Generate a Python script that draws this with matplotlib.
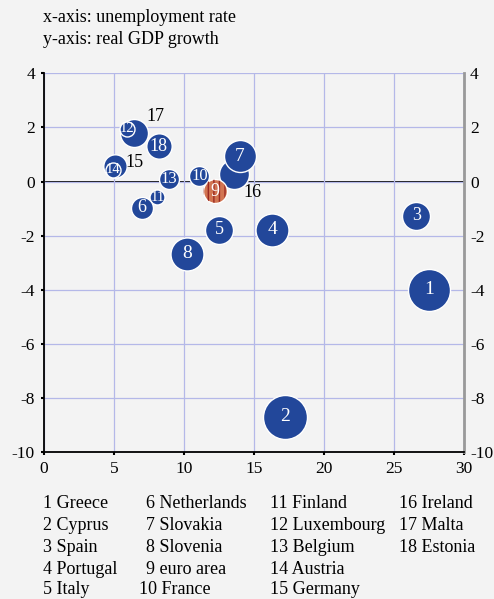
import matplotlib
matplotlib.use("Agg")
import matplotlib.pyplot as plt
from matplotlib.transforms import ScaledTranslation

plt.rcParams["font.family"] = ["Liberation Serif", "DejaVu Serif"]
plt.rcParams["axes.unicode_minus"] = False

# data
labels = ["1", "2", "3", "4", "5", "6", "7", "8", "9",
          "10", "11", "12", "13", "14", "15", "16", "17", "18"]
countries = ["Greece", "Cyprus", "Spain", "Portugal", "Italy", "Netherlands",
             "Slovakia", "Slovenia", "euro area", "France", "Finland",
             "Luxembourg", "Belgium", "Austria", "Germany", "Ireland",
             "Malta", "Estonia"]
unemployment = [27.5, 17.2, 26.6, 16.3, 12.5, 7.0, 14.0, 10.2, 12.2,
                11.1, 8.1, 5.9, 8.9, 4.9, 5.1, 13.6, 6.4, 8.2]
gdp_growth = [-4.0, -8.7, -1.26, -1.78, -1.78, -0.97, 0.94, -2.67, -0.36,
              0.22, -0.58, 1.95, 0.10, 0.44, 0.57, 0.26, 1.80, 1.31]
# relative bubble size (radius)
weight = [21, 22, 14, 16.5, 14, 11, 16, 16.5, 12,
          10, 7.5, 7.5, 10, 7.5, 11.7, 15, 14, 12.7]
outside_labels = ["15", "16", "17"]

BLUE = "#22479a"
EA_FACE = "#d27552"
EA_STRIPE = "#9a2a22"
GRID = "#b4b8e8"
BG = "#f3f3f3"

fig = plt.figure(figsize=(4.94, 5.99), dpi=100, facecolor=BG)
ax = fig.add_axes([44 / 494, 1 - 452 / 599, 420 / 494, 378.7 / 599])
ax.set_facecolor(BG)

ax.set_xlim(0, 30)
ax.set_ylim(-10, 4)
ax.set_xticks(range(0, 31, 5))
ax.set_yticks(range(-10, 5, 2))
ax.grid(color=GRID, lw=0.9, zorder=0)
ax.axhline(0, color="black", lw=1.3, zorder=1)

ax.spines["top"].set_visible(False)
ax.spines["left"].set_color("black")
ax.spines["left"].set_linewidth(1.3)
ax.spines["bottom"].set_color("black")
ax.spines["bottom"].set_linewidth(1.3)
ax.spines["right"].set_color("#999999")
ax.spines["right"].set_linewidth(2)

ax.tick_params(axis="both", labelsize=12.5, colors="black", direction="out",
               length=2.5, width=1.5, pad=4)
ax.tick_params(axis="y", left=True, right=False, labelleft=True, labelright=True)

# pull the right-hand labels a little closer to the spine
for t in ax.yaxis.get_major_ticks():
    t.label2.set_transform(t.label2.get_transform()
                           + ScaledTranslation(-3 / 100, 0, fig.dpi_scale_trans))

# lower numbers sit on top of higher ones
n = len(labels)
for i in range(n):
    x, y, r = unemployment[i], gdp_growth[i], weight[i]
    s = (2 * r * 0.72) ** 2
    z = 3 + 2 * (n - i)
    if countries[i] == "euro area":
        ax.scatter(x, y, s=s, color=EA_FACE, edgecolor="white", lw=1, zorder=z)
        ax.scatter(x, y, s=s * 0.92, facecolor="none", edgecolor=EA_STRIPE,
                   hatch="|||", lw=0, zorder=z + 0.2)
    else:
        ax.scatter(x, y, s=s, color=BLUE, edgecolor="white", lw=1, zorder=z)

    if labels[i] in outside_labels:
        continue
    fs = 10.5 if r < 9 else (12 if r < 11 else (13 if r < 15 else 14))
    ax.text(x, y, labels[i], color="white", fontsize=fs, ha="center",
            va="center", zorder=z + 0.5)

# numbers written beside their bubbles
offsets = {"15": (14, 2.5), "16": (13, -13), "17": (16, 12)}
for lab, off in offsets.items():
    i = labels.index(lab)
    ax.annotate(lab, (unemployment[i], gdp_growth[i]), xytext=off,
                textcoords="offset points", fontsize=13, ha="center",
                va="center", zorder=60)

fig.text(43 / 494, 1 - 17 / 599, "x-axis: unemployment rate", fontsize=13,
         va="center")
fig.text(43 / 494, 1 - 40 / 599, "y-axis: real GDP growth", fontsize=13,
         va="center")

# key below the chart, five rows per column
col_x = [43, 146, 270, 399]
row_y = [503, 525, 547, 569, 590]
for i, (lab, name) in enumerate(zip(labels, countries)):
    col, row = divmod(i, 5)
    x = col_x[col]
    if col == 1 and len(lab) == 2:
        x -= 7.5
    fig.text(x / 494, 1 - row_y[row] / 599, f"{lab} {name}", fontsize=13,
             va="center")

fig.savefig("out.png", dpi=100, facecolor=BG)
